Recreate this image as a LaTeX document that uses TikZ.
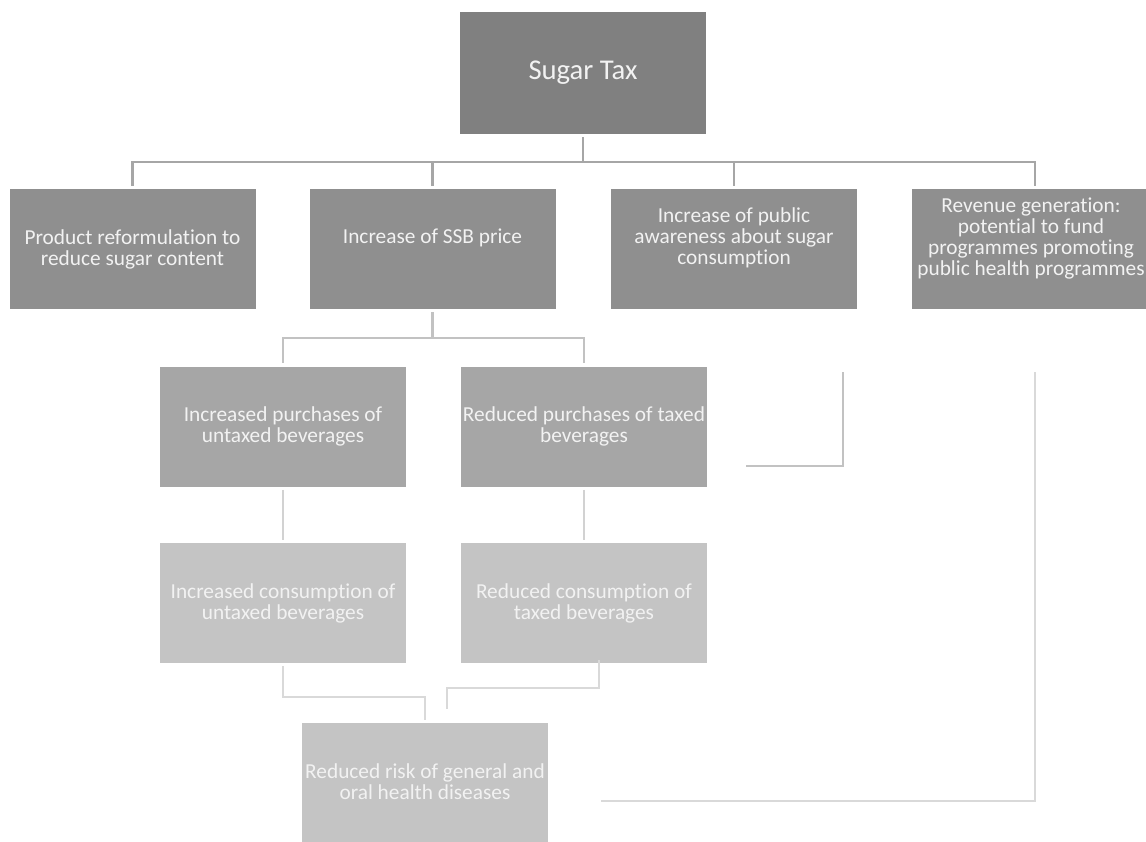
\documentclass[tikz,border=0pt]{standalone}
\usepackage{fontspec}
\setmainfont{Carlito}[Ligatures=NoCommon]
\usetikzlibrary{calc}
\begin{document}
\begin{tikzpicture}[x=0.75pt,y=-0.75pt,
  box/.style={rectangle,inner sep=0pt,minimum width=184.5pt,minimum height=90pt},
  lvl0/.style={box,fill=tax},
  lvl1/.style={box,fill=effA},
  lvl2/.style={box,fill=effB},
  lvl3/.style={box,fill=effC},
  lbl/.style={align=center,text=txt,font=\fontsize{16}{15.75}\selectfont,inner sep=0pt},
  conn/.style={line width=1.6pt},
]
\definecolor{tax}{HTML}{808080}
\definecolor{effA}{HTML}{8F8F8F}
\definecolor{effB}{HTML}{A6A6A6}
\definecolor{effC}{HTML}{C4C4C4}
\definecolor{txt}{HTML}{F2F2F2}
\definecolor{lnA}{HTML}{A6A6A6}
\definecolor{lnB}{HTML}{C2C2C2}
\definecolor{lnC}{HTML}{D2D2D2}
\definecolor{lnD}{HTML}{D9D9D9}
\useasboundingbox (0,0) rectangle (1146,842);
\begin{scope}
\clip (0,0) rectangle (1146,842);

% top level
\node[lvl0,minimum height=91.5pt] (tax) at (583,73) {};
\node[lbl,font=\fontsize{21.5}{24}\selectfont] at (583,73) {Sugar Tax};

% first-order effects
\node[lvl1] (ref) at (132.5,249) {};
\node[lbl] at (132.5,249) {Product reformulation to\\reduce sugar content};
\node[lvl1] (price) at (432.5,249) {};
\node[lbl] at (432.5,238) {Increase of SSB price};
\node[lvl1] (aware) at (734,249) {};
\node[lbl] at (734,238) {Increase of public\\awareness about sugar\\consumption};
\node[lvl1] (rev) at (1035,249) {};
\node[lbl] at (1031,238.5) {Revenue generation:\\potential to fund\\programmes promoting\\public health programmes};

% purchases
\node[lvl2] (upur) at (283,426.5) {};
\node[lbl] at (283,426.5) {Increased purchases of\\untaxed beverages};
\node[lvl2] (tpur) at (584,426.5) {};
\node[lbl] at (584,426.5) {Reduced purchases of taxed\\beverages};

% consumption
\node[lvl3] (ucon) at (283,603) {};
\node[lbl] at (283,603) {Increased consumption of\\untaxed beverages};
\node[lvl3] (tcon) at (584,603) {};
\node[lbl] at (584,603) {Reduced consumption of\\taxed beverages};

% outcome
\node[lvl3] (risk) at (425,783) {};
\node[lbl] at (425,781.5) {Reduced risk of general and\\oral health diseases};

% tree connectors
\draw[conn,lnA] ([yshift=-2.25pt]tax.south) -- ++(0,25) coordinate (hub);
\foreach \n in {ref,price,aware,rev}
  \draw[conn,lnA] (hub) -| ([yshift=2.25pt]\n.north);
\draw[conn,lnB] ([yshift=-2.25pt]price.south) -- ++(0,26) coordinate (hub2);
\foreach \n in {upur,tpur}
  \draw[conn,lnB] (hub2) -| ([yshift=2.25pt]\n.north);
\draw[conn,lnC] ([yshift=-2.25pt]upur.south) -- ([yshift=2.25pt]ucon.north);
\draw[conn,lnC] ([yshift=-2.25pt]tpur.south) -- ([yshift=2.25pt]tcon.north);

% converging connectors to the outcome
\coordinate (uEnd) at (425,720);
\coordinate (tStart) at (599,660);
\coordinate (tEnd) at (447,709);
\draw[conn,lnD] ([yshift=-2.25pt]ucon.south) |- (425,697) -- (uEnd);
\draw[conn,lnD] (tStart) |- (447,688) -- (tEnd);

% side connectors
\coordinate (awTop) at (843,372);
\coordinate (awEnd) at (746,466);
\draw[conn,lnB] (awTop) |- (awEnd);
\coordinate (revTop) at (1035,372);
\coordinate (revEnd) at (601,801);
\draw[conn,lnD] (revTop) |- (revEnd);
\end{scope}
\end{tikzpicture}
\end{document}
